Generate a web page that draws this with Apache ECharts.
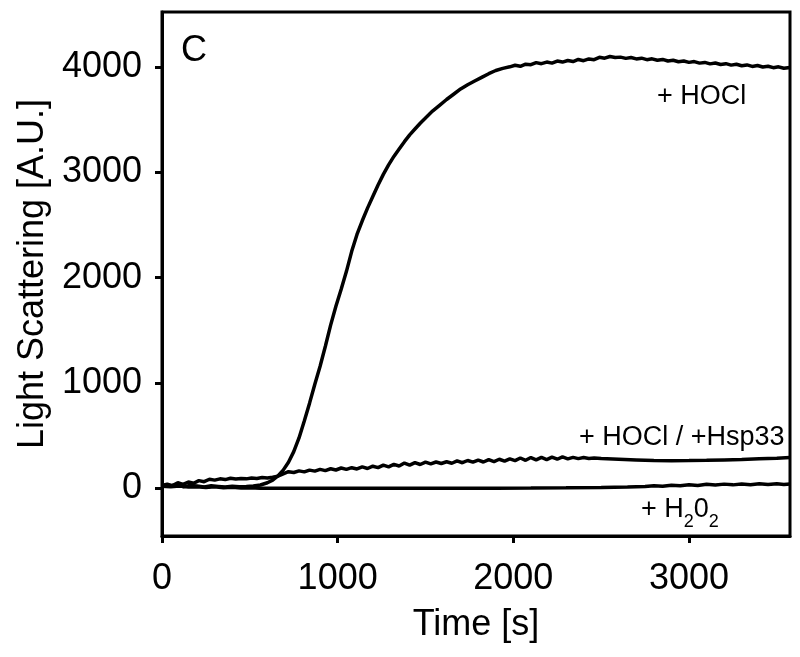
<!DOCTYPE html>
<html>
<head>
<meta charset="utf-8">
<script src="https://cdn.jsdelivr.net/npm/echarts@6/dist/echarts.min.js"></script>
<style>
html,body{margin:0;padding:0;background:#fff;}
#chart{width:800px;height:657px;}
</style>
</head>
<body>
<div id="chart"></div>
<script>
// ---- Data ----
const xTicks = [0, 1000, 2000, 3000];
const yTicks = [0, 1000, 2000, 3000, 4000];

const hoclTime = [0,40,80,120,160,200,240,280,320,360,400,440,480,520,560,
  600,630,660,690,720,750,780,810,840,870,900,930,960,990,1020,1050,1080,1110,1140,1170,1200,
  1230,1260,1290,1320,1350,1380,1410,1440,1470,1500,1540,1580,1620,1660,1700,1740,1780,1820,1860,1900,1940,1980,
  2010,2040,2070,2100,2130,2160,2190,2220,2250,2280,2310,2340,2370,2400,2430,2460,2490,2520,2550,2580,2610,2640,
  2670,2700,2730,2760,2790,2820,2850,2880,2910,2940,2970,3000,3030,3060,3090,3120,3150,3180,3210,3240,3270,3300,
  3330,3360,3390,3420,3450,3480,3510,3540,3575];
const hoclValues = [30,22,34,18,28,24,16,26,20,14,22,18,20,24,34,
  55,80,120,175,250,350,480,640,810,990,1160,1350,1550,1730,1890,2060,2250,2410,2540,2660,2770,
  2880,2980,3070,3150,3220,3290,3355,3410,3465,3515,3580,3635,3690,3740,3790,3830,3865,3900,3935,3965,3985,4000,
  4015,4005,4025,4020,4040,4030,4045,4035,4055,4045,4060,4050,4070,4058,4075,4068,4090,4082,4098,4088,4092,4080,
  4088,4075,4082,4068,4076,4062,4070,4055,4062,4048,4055,4042,4050,4035,4042,4028,4036,4022,4030,4016,4024,4010,
  4018,4004,4012,3998,4006,3992,4000,3986,3994];

const hspTime = [0,30,60,90,120,150,180,210,240,270,300,330,360,390,420,450,480,510,540,570,600,630,660,690,720,
  750,780,810,840,870,900,930,960,990,1020,1050,1080,1110,1140,1170,1200,1230,1260,1290,1320,1350,1380,1410,1440,
  1470,1500,1530,1560,1590,1620,1650,1680,1710,1740,1770,1800,1830,1860,1890,1920,1950,1980,2010,2040,2070,2100,
  2130,2160,2190,2220,2250,2280,2310,2340,2370,2400,2430,2460,2500,2600,2700,2800,2900,3000,3100,3200,3300,3400,3500,3575];
const hspValues = [30,42,28,55,40,62,50,75,65,88,80,92,85,98,90,96,92,100,96,104,100,108,118,140,160,
  152,168,158,175,165,182,170,188,176,195,182,198,186,205,190,212,198,222,206,230,214,242,222,246,
  228,250,234,252,238,254,240,262,245,266,250,270,252,274,256,278,260,282,265,290,268,294,
  272,296,275,298,278,300,282,296,284,294,286,290,284,278,272,266,264,265,268,272,276,282,288,294];

const h2o2Time = [0,50,100,150,200,250,300,350,400,450,500,560,700,900,1100,1300,1500,1700,1900,2100,2300,2500,
  2650,2750,2800,2850,2900,2950,3000,3050,3100,3150,3200,3250,3300,3350,3400,3450,3500,3540,3575];
const h2o2Values = [22,16,24,14,18,10,16,8,12,6,8,4,3,2,2,2,2,3,4,5,7,10,
  14,20,26,22,32,26,36,30,40,33,42,35,44,37,46,38,45,38,44];

const pair = (t, v) => t.map((x, i) => [x, v[i]]);

const FONT = 'Liberation Sans, Arial, sans-serif';
const chart = echarts.init(document.getElementById('chart'), null, {renderer: 'canvas'});

const lineSeries = (name, data) => ({
  name, type: 'line', data, showSymbol: false, symbol: 'none',
  lineStyle: {color: '#000', width: 3.5}, animation: false, z: 3
});

chart.setOption({
  backgroundColor: '#fff',
  animation: false,
  grid: {left: 162, right: 10, top: 12, bottom: 121, show: true, borderColor: '#000', borderWidth: 3, backgroundColor: 'transparent'},
  xAxis: {
    type: 'value', min: 0, max: 3575,
    name: 'Time [s]', nameLocation: 'middle', nameGap: 71,
    nameTextStyle: {fontFamily: FONT, fontSize: 36, color: '#000'},
    axisLine: {show: true, onZero: false, lineStyle: {color: '#000', width: 3}},
    axisTick: {show: true, inside: false, length: 7, lineStyle: {color: '#000', width: 3}, customValues: xTicks},
    axisLabel: {fontFamily: FONT, fontSize: 36, color: '#000', margin: 25, customValues: xTicks, formatter: v => String(v)},
    splitLine: {show: false}
  },
  yAxis: {
    type: 'value', min: -450, max: 4520,
    name: 'Light Scattering [A.U.]', nameLocation: 'middle', nameGap: 106,
    nameTextStyle: {fontFamily: FONT, fontSize: 36, color: '#000'},
    axisLine: {show: true, onZero: false, lineStyle: {color: '#000', width: 3}},
    axisTick: {show: true, inside: false, length: 7, lineStyle: {color: '#000', width: 3}, customValues: yTicks},
    axisLabel: {fontFamily: FONT, fontSize: 36, color: '#000', margin: 20, customValues: yTicks, formatter: v => String(v)},
    splitLine: {show: false}
  },
  series: [
    lineSeries('+ H2O2', pair(h2o2Time, h2o2Values)),
    lineSeries('+ HOCl / +Hsp33', pair(hspTime, hspValues)),
    lineSeries('+ HOCl', pair(hoclTime, hoclValues))
  ],
  graphic: [
    {type: 'text', left: 181, top: 33, style: {text: 'C', font: '36px ' + FONT, fill: '#000'}},
    {type: 'text', left: 657, top: 83, style: {text: '+ HOCl', font: '27px ' + FONT, fill: '#000'}},
    {type: 'text', left: 579, top: 424, style: {text: '+ HOCl / +Hsp33', font: '27px ' + FONT, fill: '#000'}},
    {type: 'text', left: 641, top: 496, style: {
      text: '{n|+ H}{s|2}{n|0}{s|2}',
      rich: {
        n: {fontFamily: FONT, fontSize: 27, fill: '#000', color: '#000', verticalAlign: 'bottom', lineHeight: 30},
        s: {fontFamily: FONT, fontSize: 18, fill: '#000', color: '#000', verticalAlign: 'bottom', lineHeight: 22, padding: [0,0,-8,0]}
      }
    }}
  ]
});
</script>
</body>
</html>
